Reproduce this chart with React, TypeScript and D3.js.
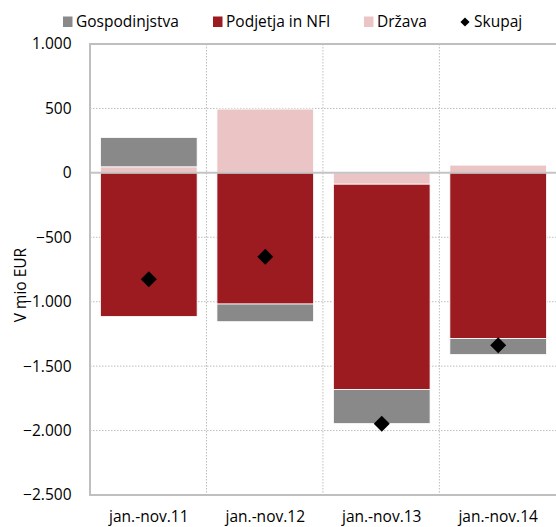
import React from 'react';
import * as d3 from 'd3';

const categories = ['jan.-nov.11', 'jan.-nov.12', 'jan.-nov.13', 'jan.-nov.14'];
const gospodinjstva = [228, -137, -265, -124];
const podjetja = [-1114, -1018, -1593, -1286];
const drzava = [47, 495, -88, 60];
const skupaj = [-826, -652, -1948, -1337];
const yTicks = [1000, 500, 0, -500, -1000, -1500, -2000, -2500];

const W = 556;
const H = 527;
const margin = { top: 44, left: 90, right: -1, bottom: 32 };
const font = '"Open Sans", sans-serif';
const fs = 15.5;

const colors: Record<string, string> = {
  drzava: '#ebc5c5',
  podjetja: '#9b1b21',
  gospodinjstva: '#898989',
};

// stack order matters: Država sits next to zero, then Podjetja, then Gospodinjstva
const keys = ['drzava', 'podjetja', 'gospodinjstva'];

const rows = categories.map((c, i) => ({
  cat: c,
  drzava: drzava[i],
  podjetja: podjetja[i],
  gospodinjstva: gospodinjstva[i],
}));

const fmt = (v: number) => d3.format(',')(v).replace(/,/g, '.');

export default function App() {
  const x0 = margin.left;
  const x1 = W - margin.right;
  const yTop = margin.top;
  const yBot = H - margin.bottom;

  const x = d3.scaleBand<string>().domain(categories).range([x0, x1]).paddingInner(0.17).paddingOuter(0.09);
  const y = d3.scaleLinear().domain([-2500, 1000]).range([yBot, yTop]);

  const series = d3.stack<any>().keys(keys).offset(d3.stackOffsetDiverging)(rows);

  const diamond = d3.symbol().type(d3.symbolSquare).size(128)();
  const legDiamond = d3.symbol().type(d3.symbolSquare).size(42)();

  const step = x.step();
  const boundaries = [1, 2, 3].map((k) => x0 + step * k);

  const legend = [
    { label: 'Gospodinjstva', color: colors.gospodinjstva, x: 63 },
    { label: 'Podjetja in NFI', color: colors.podjetja, x: 213 },
    { label: 'Država', color: colors.drzava, x: 364 },
  ];

  return (
    <svg width={W} height={H} style={{ position: 'absolute', left: 0, top: 0, background: '#fff' }}>
      {/* dotted grid */}
      {yTicks.filter((t) => t !== 0 && t !== 1000 && t !== -2500).map((t) => (
        <line key={t} x1={x0} x2={x1} y1={y(t)} y2={y(t)} stroke="#bdbdbd" strokeWidth={1} strokeDasharray="1.5,1.5" />
      ))}
      {boundaries.map((b) => (
        <line key={b} x1={b} x2={b} y1={yTop} y2={yBot} stroke="#bdbdbd" strokeWidth={1} strokeDasharray="1.5,1.5" />
      ))}

      {/* bars */}
      {series.map((s) => (
        <g key={s.key} fill={colors[s.key]}>
          {s.map((d: any, i: number) => (
            <rect
              key={i}
              x={x(categories[i])}
              width={x.bandwidth()}
              y={y(Math.max(d[0], d[1]))}
              height={Math.abs(y(d[0]) - y(d[1]))}
              stroke="#fff"
              strokeWidth={0.8}
            />
          ))}
        </g>
      ))}

      {/* frame */}
      <line x1={x0} x2={x1} y1={yTop} y2={yTop} stroke="#bfbfbf" strokeWidth={2} />
      <line x1={x0} x2={x1} y1={yBot} y2={yBot} stroke="#bfbfbf" strokeWidth={2} />
      <line x1={x0} x2={x1} y1={y(0)} y2={y(0)} stroke="#c4c4c4" strokeWidth={2} />
      <line x1={x0} x2={x0} y1={yTop - 1} y2={yBot + 1} stroke="#bfbfbf" strokeWidth={2} />

      {/* Skupaj */}
      {skupaj.map((v, i) => (
        <path
          key={i}
          d={diamond}
          fill="#000"
          transform={`translate(${x(categories[i])! + x.bandwidth() / 2},${y(v)}) rotate(45)`}
        />
      ))}

      {/* y ticks */}
      {yTicks.map((t) => (
        <text key={t} x={71.5} y={y(t)} dy="0.35em" textAnchor="end" fontFamily={font} fontSize={fs} fill="#000">
          {fmt(t)}
        </text>
      ))}
      <text
        transform={`translate(21,285) rotate(-90)`}
        textAnchor="middle"
        dy="0.35em"
        fontFamily={font}
        fontSize={fs}
        fill="#000"
      >
        V mio EUR
      </text>

      {/* x labels */}
      {categories.map((c) => (
        <text key={c} x={x(c)! + x.bandwidth() / 2} y={517} dy="0.35em" textAnchor="middle" fontFamily={font} fontSize={fs} fill="#000">
          {c}
        </text>
      ))}

      {/* legend */}
      {legend.map((l) => (
        <g key={l.label}>
          <rect x={l.x} y={16.5} width={9.5} height={10.5} fill={l.color} />
          <text x={l.x + 13} y={22} dy="0.35em" fontFamily={font} fontSize={fs} fill="#000">
            {l.label}
          </text>
        </g>
      ))}
      <path d={legDiamond} fill="#000" transform="translate(465,22) rotate(45)" />
      <text x={474} y={22} dy="0.35em" fontFamily={font} fontSize={fs} fill="#000">
        Skupaj
      </text>
    </svg>
  );
}
